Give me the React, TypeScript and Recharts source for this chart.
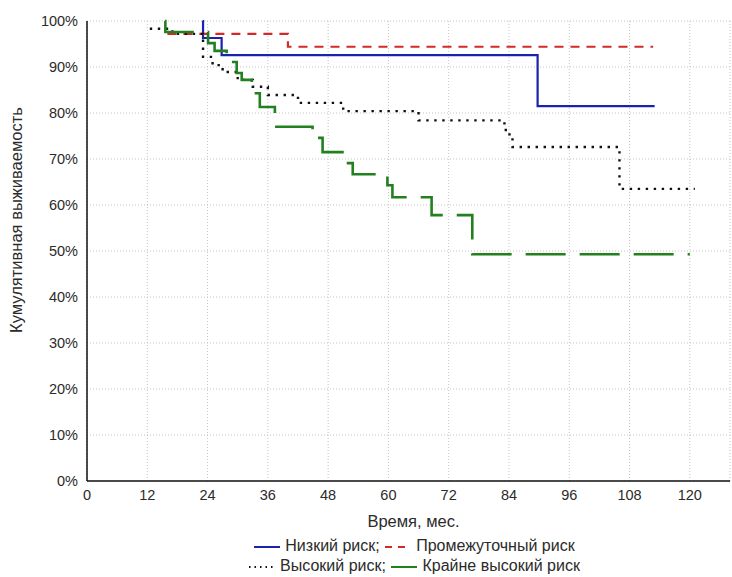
import React from "react";
import {
  LineChart,
  Line,
  CartesianGrid,
  XAxis,
  YAxis,
  Legend,
  Label,
} from "recharts";

// months / cumulative survival (%)
const lowRiskMonths = [23, 23.1, 26.8, 89.7, 113];
const lowRiskSurvival = [100, 96.3, 92.6, 81.5, 81.5];

const midRiskMonths = [16, 40, 112.7];
const midRiskSurvival = [97.2, 94.4, 94.4];

const highRiskMonths = [12.5, 17, 23.1, 25, 27, 30, 33, 36, 42, 51, 66, 83.1, 84.1, 84.7, 106, 121];
const highRiskSurvival = [98.3, 97.2, 92.2, 90.4, 88.9, 87.2, 85.7, 83.9, 82.2, 80.4, 78.4, 76.3, 74.8, 72.6, 63.5, 63.5];

const extremeRiskMonths = [15.5, 15.6, 24.1, 25.4, 27.8, 29.8, 30.8, 32.8, 34.4, 37.4, 44.9, 46.9, 51.7, 52.9, 59.8, 60.8, 68.6, 76.7, 120];
const extremeRiskSurvival = [100, 97.6, 95.2, 93.5, 91.1, 88.7, 87.2, 84.3, 81.3, 77, 74.6, 71.5, 69.1, 66.7, 64.3, 61.7, 57.8, 49.3, 49.3];

const monthTicks = [0, 12, 24, 36, 48, 60, 72, 84, 96, 108, 120];
const topTicks = [4.6, 22.5, 40.3, 58.2, 76.1, 94, 112];
const percentTicks = [0, 10, 20, 30, 40, 50, 60, 70, 80, 90, 100];

const toRows = (months: number[], values: number[]) =>
  months.map((t, i) => ({ t, v: values[i] }));

const lowRisk = toRows(lowRiskMonths, lowRiskSurvival);
const midRisk = toRows(midRiskMonths, midRiskSurvival);
const highRisk = toRows(highRiskMonths, highRiskSurvival);
const extremeRisk = toRows(extremeRiskMonths, extremeRiskSurvival);

const FONT = "'Liberation Sans', Arial, sans-serif";
const TEXT = "#2b2b2b";

const BLUE = "#1a22b0";
const RED = "#d02a2a";
const BLACK = "#111111";
const GREEN = "#23801f";

const Sample = ({ color, dash, width = 2 }: any) => (
  <svg width={28} height={10} style={{ verticalAlign: "middle", marginRight: 4 }}>
    <line x1={1} y1={5} x2={27} y2={5} stroke={color} strokeWidth={width} strokeDasharray={dash} />
  </svg>
);

const CustomLegend = () => (
  <div
    style={{
      width: 732,
      paddingLeft: 96,
      boxSizing: "border-box",
      textAlign: "center",
      fontFamily: FONT,
      fontSize: 16,
      color: TEXT,
      lineHeight: "20px",
      paddingTop: 5,
    }}
  >
    <div>
      <Sample color={BLUE} />
      <span>Низкий риск; </span>
      <Sample color={RED} dash="7 6" />
      <span>Промежуточный риск</span>
    </div>
    <div>
      <Sample color={BLACK} dash="1.5 4" />
      <span>Высокий риск; </span>
      <Sample color={GREEN} />
      <span>Крайне высокий риск</span>
    </div>
  </div>
);

export default function App() {
  return (
    <div>
      <style>{`body{margin:0;background:#fff}`}</style>
      <LineChart
        width={732}
        height={577}
        margin={{ top: 21, right: 2, bottom: 0, left: 0 }}
        style={{ fontFamily: FONT }}
      >
        <CartesianGrid stroke="#c4c4c4" strokeDasharray="1 2" />
        <XAxis
          dataKey="t"
          type="number"
          domain={[0, 128]}
          ticks={monthTicks}
          allowDataOverflow
          height={50}
          tickSize={0}
          tickMargin={9}
          axisLine={{ stroke: "#111", strokeWidth: 1.5 }}
          tick={{ fill: TEXT, fontSize: 14.5 }}
        >
          <Label
            content={(props: any) => {
              const vb = props.viewBox || {};
              return (
                <text
                  x={vb.x + vb.width / 2 + 5}
                  y={527}
                  textAnchor="middle"
                  fill={TEXT}
                  fontSize={16.5}
                >
                  Время, мес.
                </text>
              );
            }}
          />
        </XAxis>
        <XAxis
          xAxisId="top"
          orientation="top"
          type="number"
          domain={[0, 128]}
          ticks={topTicks}
          height={0}
          tick={false}
          tickSize={3}
          mirror
          axisLine={{ stroke: "#111", strokeWidth: 1.5 }}
          tickLine={{ stroke: "#111" }}
        />
        <YAxis
          type="number"
          domain={[0, 100]}
          ticks={percentTicks}
          width={87}
          tickSize={0}
          tickMargin={9}
          tickFormatter={(v) => `${v}%`}
          axisLine={{ stroke: "#111", strokeWidth: 1.5 }}
          tick={{ fill: TEXT, fontSize: 14.5 }}
        >
          <Label
            content={() => (
              <text
                x={18}
                y={220}
                transform="rotate(-90 18 220)"
                textAnchor="middle"
                dominantBaseline="middle"
                fill={TEXT}
                fontSize={16.5}
              >
                Кумулятивная выживаемость
              </text>
            )}
          />
        </YAxis>
        <Legend
          verticalAlign="bottom"
          height={46}
          wrapperStyle={{ left: 0, width: 732 }}
          content={() => <CustomLegend />}
        />
        <Line
          data={lowRisk}
          dataKey="v"
          type="stepAfter"
          stroke={BLUE}
          strokeWidth={2.2}
          dot={false}
          activeDot={false}
          isAnimationActive={false}
        />
        <Line
          data={midRisk}
          dataKey="v"
          type="stepAfter"
          stroke={RED}
          strokeWidth={2.2}
          strokeDasharray="9 7"
          dot={false}
          activeDot={false}
          isAnimationActive={false}
        />
        <Line
          data={highRisk}
          dataKey="v"
          type="stepAfter"
          stroke={BLACK}
          strokeWidth={2.4}
          strokeDasharray="2.4 5.6"
          dot={false}
          activeDot={false}
          isAnimationActive={false}
        />
        <Line
          data={extremeRisk}
          dataKey="v"
          type="stepAfter"
          stroke={GREEN}
          strokeWidth={2.6}
          strokeDasharray="40 14"
          dot={false}
          activeDot={false}
          isAnimationActive={false}
        />
      </LineChart>
    </div>
  );
}
